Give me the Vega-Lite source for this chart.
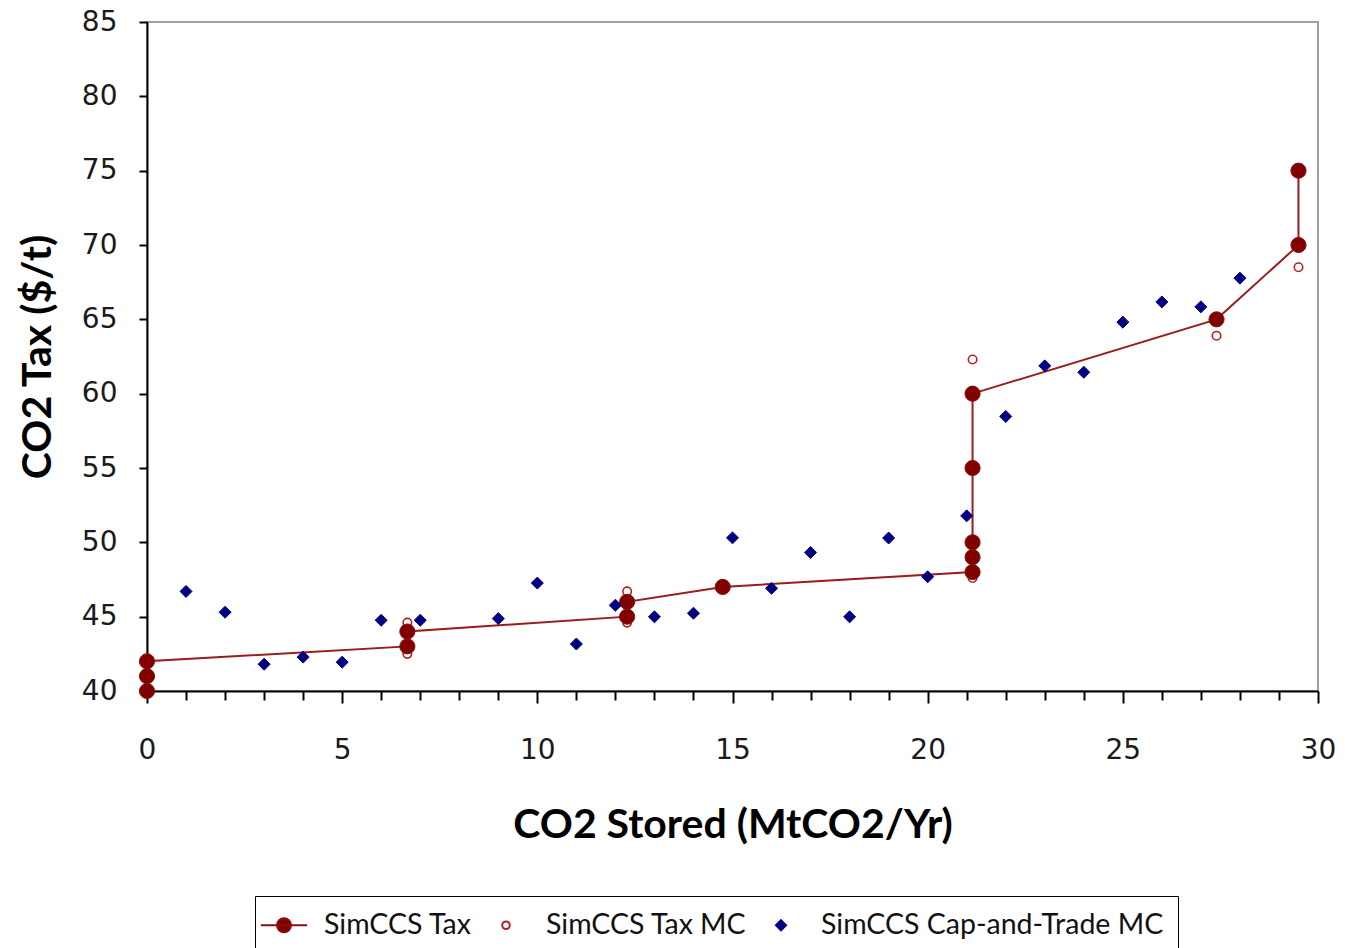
{
  "$schema": "https://vega.github.io/schema/vega-lite/v6.json",
  "width": 1171,
  "height": 669,
  "autosize": {"type": "none"},
  "padding": {"left": 147, "top": 22, "right": 27, "bottom": 257},
  "background": "white",
  "config": {
    "view": {"stroke": "#a0a0a0", "strokeWidth": 2},
    "axis": {"grid": false, "domainColor": "#000000", "domainWidth": 2, "tickColor": "#000000", "tickWidth": 2, "labelFont": "DejaVu Sans", "labelFontSize": 28, "labelColor": "#1a1a1a", "titleFont": "Lato", "titleFontWeight": "bold", "titleFontSize": 41, "titleColor": "#000000"}
  },
  "datasets": {
    "pts": [
      {"series": "SimCCS Tax MC", "x": 6.67, "y": 44.6, "order": 1},
      {"series": "SimCCS Tax MC", "x": 6.67, "y": 42.5, "order": 2},
      {"series": "SimCCS Tax MC", "x": 12.3, "y": 46.7, "order": 3},
      {"series": "SimCCS Tax MC", "x": 12.3, "y": 44.6, "order": 4},
      {"series": "SimCCS Tax MC", "x": 21.15, "y": 62.3, "order": 5},
      {"series": "SimCCS Tax MC", "x": 21.15, "y": 47.6, "order": 6},
      {"series": "SimCCS Tax MC", "x": 27.4, "y": 63.9, "order": 7},
      {"series": "SimCCS Tax MC", "x": 29.5, "y": 68.5, "order": 8},
      {"series": "SimCCS Tax", "x": 0, "y": 40, "order": 1},
      {"series": "SimCCS Tax", "x": 0, "y": 41, "order": 2},
      {"series": "SimCCS Tax", "x": 0, "y": 42, "order": 3},
      {"series": "SimCCS Tax", "x": 6.67, "y": 43, "order": 4},
      {"series": "SimCCS Tax", "x": 6.67, "y": 44, "order": 5},
      {"series": "SimCCS Tax", "x": 12.3, "y": 45, "order": 6},
      {"series": "SimCCS Tax", "x": 12.3, "y": 46, "order": 7},
      {"series": "SimCCS Tax", "x": 14.75, "y": 47, "order": 8},
      {"series": "SimCCS Tax", "x": 21.15, "y": 48, "order": 9},
      {"series": "SimCCS Tax", "x": 21.15, "y": 49, "order": 10},
      {"series": "SimCCS Tax", "x": 21.15, "y": 50, "order": 11},
      {"series": "SimCCS Tax", "x": 21.15, "y": 55, "order": 12},
      {"series": "SimCCS Tax", "x": 21.15, "y": 60, "order": 13},
      {"series": "SimCCS Tax", "x": 27.4, "y": 65, "order": 14},
      {"series": "SimCCS Tax", "x": 29.5, "y": 70, "order": 15},
      {"series": "SimCCS Tax", "x": 29.5, "y": 75, "order": 16},
      {"series": "SimCCS Cap-and-Trade MC", "x": 1, "y": 46.7, "order": 1},
      {"series": "SimCCS Cap-and-Trade MC", "x": 2, "y": 45.3, "order": 2},
      {"series": "SimCCS Cap-and-Trade MC", "x": 3, "y": 41.8, "order": 3},
      {"series": "SimCCS Cap-and-Trade MC", "x": 4, "y": 42.28, "order": 4},
      {"series": "SimCCS Cap-and-Trade MC", "x": 5, "y": 41.94, "order": 5},
      {"series": "SimCCS Cap-and-Trade MC", "x": 6, "y": 44.76, "order": 6},
      {"series": "SimCCS Cap-and-Trade MC", "x": 7, "y": 44.76, "order": 7},
      {"series": "SimCCS Cap-and-Trade MC", "x": 9, "y": 44.87, "order": 8},
      {"series": "SimCCS Cap-and-Trade MC", "x": 10, "y": 47.26, "order": 9},
      {"series": "SimCCS Cap-and-Trade MC", "x": 11, "y": 43.16, "order": 10},
      {"series": "SimCCS Cap-and-Trade MC", "x": 12, "y": 45.77, "order": 11},
      {"series": "SimCCS Cap-and-Trade MC", "x": 13, "y": 44.99, "order": 12},
      {"series": "SimCCS Cap-and-Trade MC", "x": 14, "y": 45.23, "order": 13},
      {"series": "SimCCS Cap-and-Trade MC", "x": 15, "y": 50.3, "order": 14},
      {"series": "SimCCS Cap-and-Trade MC", "x": 16, "y": 46.91, "order": 15},
      {"series": "SimCCS Cap-and-Trade MC", "x": 17, "y": 49.32, "order": 16},
      {"series": "SimCCS Cap-and-Trade MC", "x": 18, "y": 44.99, "order": 17},
      {"series": "SimCCS Cap-and-Trade MC", "x": 19, "y": 50.29, "order": 18},
      {"series": "SimCCS Cap-and-Trade MC", "x": 20, "y": 47.68, "order": 19},
      {"series": "SimCCS Cap-and-Trade MC", "x": 21, "y": 51.78, "order": 20},
      {"series": "SimCCS Cap-and-Trade MC", "x": 22, "y": 58.47, "order": 21},
      {"series": "SimCCS Cap-and-Trade MC", "x": 23, "y": 61.87, "order": 22},
      {"series": "SimCCS Cap-and-Trade MC", "x": 24, "y": 61.44, "order": 23},
      {"series": "SimCCS Cap-and-Trade MC", "x": 25, "y": 64.81, "order": 24},
      {"series": "SimCCS Cap-and-Trade MC", "x": 26, "y": 66.17, "order": 25},
      {"series": "SimCCS Cap-and-Trade MC", "x": 27, "y": 65.84, "order": 26},
      {"series": "SimCCS Cap-and-Trade MC", "x": 28, "y": 67.77, "order": 27}
    ]
  },
  "data": {"name": "pts"},
  "encoding": {
    "x": {
      "field": "x", "type": "quantitative",
      "scale": {"domain": [0, 30], "nice": false, "zero": false},
      "axis": {
        "title": "CO2 Stored (MtCO2/Yr)",
        "values": [0,1,2,3,4,5,6,7,8,9,10,11,12,13,14,15,16,17,18,19,20,21,22,23,24,25,26,27,28,29,30],
        "labelExpr": "datum.value % 5 === 0 ? datum.label : ''",
        "tickSize": {"condition": {"test": "datum.value % 5 === 0", "value": 12}, "value": 9},
        "labelPadding": 33,
        "labelFlush": false,
        "labelOverlap": false,
        "titleBaseline": "middle",
        "titleY": 134
      }
    },
    "y": {
      "field": "y", "type": "quantitative",
      "scale": {"domain": [40, 85], "nice": false, "zero": false},
      "axis": {
        "title": "CO2 Tax ($/t)",
        "values": [40,45,50,55,60,65,70,75,80,85],
        "tickSize": 8,
        "labelPadding": 22,
        "labelFlush": false,
        "labelOverlap": false,
        "titleBaseline": "middle",
        "titleX": -109
      }
    },
    "shape": {
      "field": "series", "type": "nominal",
      "scale": {
        "domain": ["SimCCS Tax", "SimCCS Tax MC", "SimCCS Cap-and-Trade MC"],
        "range": [
          "M-1.65,0H1.65M-0.5,0A0.5,0.5 0 1 1 0.5,0A0.5,0.5 0 1 1 -0.5,0Z",
          "M-0.27,0A0.27,0.27 0 1 1 0.27,0A0.27,0.27 0 1 1 -0.27,0Z",
          "M0,-0.36L0.36,0L0,0.36L-0.36,0Z"
        ]
      },
      "legend": {
        "title": null,
        "orient": "none",
        "legendX": 108,
        "legendY": 874,
        "direction": "horizontal",
        "columnPadding": 19,
        "padding": 14,
        "strokeColor": "#000000",
        "fillColor": "#ffffff",
        "symbolSize": 784,
        "symbolStrokeWidth": 2,
        "symbolOpacity": 1,
        "labelOffset": 25,
        "labelLimit": 600,
        "labelFont": "Lato",
        "labelFontSize": 28.5,
        "labelColor": "#111111"
      }
    },
    "fill": {
      "field": "series", "type": "nominal",
      "scale": {"domain": ["SimCCS Tax", "SimCCS Tax MC", "SimCCS Cap-and-Trade MC"], "range": ["#800000", "#ffffff", "#000080"]}
    },
    "stroke": {
      "field": "series", "type": "nominal",
      "scale": {"domain": ["SimCCS Tax", "SimCCS Tax MC", "SimCCS Cap-and-Trade MC"], "range": ["#8b0f0f", "#b22222", "#000080"]}
    }
  },
  "layer": [
    {
      "transform": [{"filter": "datum.series === 'SimCCS Tax'"}],
      "mark": {"type": "line", "color": "#9b1c1c", "strokeWidth": 2, "clip": false},
      "encoding": {"order": {"field": "order", "type": "quantitative"}, "shape": null, "fill": null, "stroke": null}
    },
    {
      "transform": [{"filter": "datum.series === 'SimCCS Tax MC'"}],
      "mark": {"type": "point", "filled": true, "strokeWidth": 1.6, "size": 990, "opacity": 1, "clip": false}
    },
    {
      "transform": [{"filter": "datum.series === 'SimCCS Tax'"}],
      "mark": {"type": "point", "filled": true, "shape": "circle", "strokeWidth": 1, "size": 230, "opacity": 1, "clip": false},
      "encoding": {"shape": null}
    },
    {
      "transform": [{"filter": "datum.series === 'SimCCS Cap-and-Trade MC'"}],
      "mark": {"type": "point", "filled": true, "strokeWidth": 1, "size": 1110, "opacity": 1, "clip": false}
    }
  ]
}
